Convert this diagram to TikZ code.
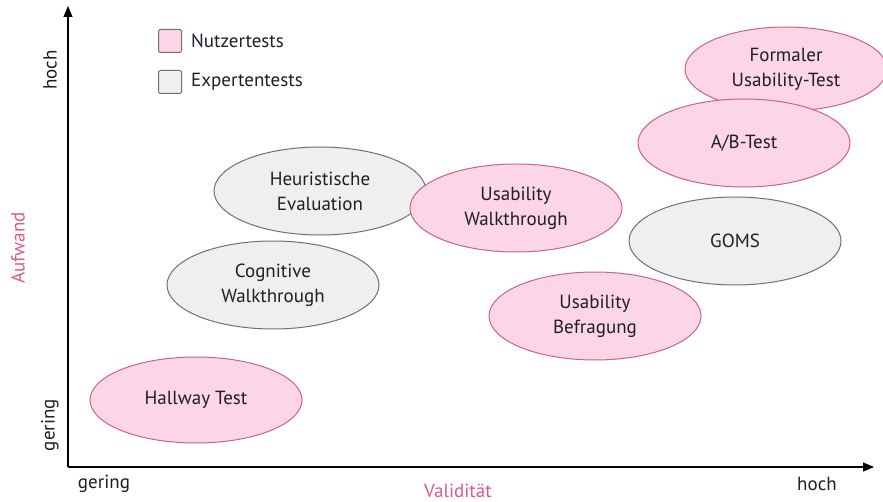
\documentclass[tikz,border=0pt]{standalone}
\usepackage{fontspec}
\setmainfont{PT Sans}
\usetikzlibrary{shapes.geometric,arrows.meta}
\definecolor{pinkfill}{HTML}{FCD5E6}
\definecolor{pinkline}{HTML}{C9628C}
\definecolor{greyfill}{HTML}{EFEFEF}
\definecolor{greyline}{HTML}{707070}
\definecolor{axispink}{HTML}{D95A8A}
\definecolor{txt}{HTML}{1E1E28}
\begin{document}
\begin{tikzpicture}[x=1pt,y=-1pt,
  ell/.style={ellipse,draw,line width=1pt,inner sep=0pt,minimum width=212pt,minimum height=88pt,
    align=center,text=txt,font=\fontsize{19}{25}\selectfont},
  user/.style={ell,fill=pinkfill,draw=pinkline},
  expert/.style={ell,fill=greyfill,draw=greyline},
  legbox/.style={draw=greyline,line width=1pt,rounded corners=1.5pt,minimum width=23pt,minimum height=23pt,inner sep=0pt},
  legtxt/.style={anchor=west,text=txt,font=\fontsize{19}{21}\selectfont,inner sep=0pt},
  axlab/.style={text=txt,font=\fontsize{19}{21}\selectfont,inner sep=0pt},
  axtitle/.style={text=axispink,font=\fontsize{19}{21}\selectfont,inner sep=0pt}]
\useasboundingbox (0,0) rectangle (883,502);
% axes
\coordinate (o) at (68,467);
\coordinate (ytip) at (68,6);
\coordinate (xtip) at (874,467);
\draw[line width=1.2pt,-{Triangle[length=11pt,width=9pt]}] (o) -- (ytip);
\draw[line width=1.2pt,-{Triangle[length=11pt,width=9pt]}] (o) -- (xtip);
% axis labels
\node[axlab,rotate=90] (yhoch) at (50,70) {hoch};
\node[axlab,rotate=90] (ygering) at (50,425) {gering};
\node[axtitle,rotate=90] (aufwand) at (18,248) {Aufwand};
\node[axlab] (xgering) at (104,484) {gering};
\node[axtitle] (validitaet) at (458,491) {Validität};
\node[axlab] (xhoch) at (817,484) {hoch};
% legend
\node[legbox,fill=pinkfill] (lb1) at (170,41) {};
\node[legtxt] (lt1) at (191,41) {Nutzertests};
\node[legbox,fill=greyfill] (lb2) at (170,82) {};
\node[legtxt] (lt2) at (191,82) {Expertentests};
% ellipses
\node[user,minimum width=202pt,minimum height=84pt] (formal) at (786,69) {Formaler\\Usability-Test};
\node[user] (ab) at (744,143) {A/B-Test};
\node[expert] (heur) at (320,191) {Heuristische\\Evaluation};
\node[user] (uw) at (516,208) {Usability\\Walkthrough};
\node[expert] (goms) at (735,241) {GOMS};
\node[expert] (cog) at (273,285) {Cognitive\\Walkthrough};
\node[user] (befr) at (595,316) {Usability\\Befragung};
\node[user,minimum height=86pt] (hall) at (196,400) {Hallway Test};
\end{tikzpicture}
\end{document}
